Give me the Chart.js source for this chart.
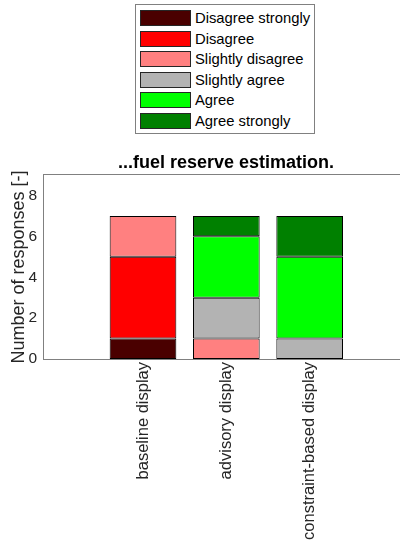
<!DOCTYPE html>
<html>
<head>
<meta charset="utf-8">
<script src="https://cdn.jsdelivr.net/npm/chart.js@4/dist/chart.umd.min.js"></script>
<style>
  html, body { margin: 0; padding: 0; background: #fff; width: 400px; height: 542px; overflow: hidden; }
  #wrap { position: relative; width: 400px; height: 542px; overflow: hidden; }
  #c { position: absolute; left: 0; top: 0; }
  #legend { position: absolute; left: 135px; top: 4px; width: 180px; height: 130px; border: 1px solid #808080; background: #fff; box-sizing: border-box; font-family: "Liberation Sans", Arial, sans-serif; font-size: 14.8px; color: #000; }
  .item { position: absolute; left: 4px; height: 16px; line-height: 16px; white-space: nowrap; }
  .sw { display: inline-block; width: 49px; height: 14px; border: 1px solid #262626; vertical-align: top; margin-right: 4px; }
</style>
</head>
<body>
<div id="wrap">
  <canvas id="c" width="452" height="542"></canvas>
  <div id="legend"></div>
</div>
<script>
// ---- data ----
const categories = ['baseline display', 'advisory display', 'constraint-based display'];
const responseLevels = ['Disagree strongly', 'Disagree', 'Slightly disagree', 'Slightly agree', 'Agree', 'Agree strongly'];
const levelColors = ['#4a0000', '#ff0000', '#ff8080', '#b3b3b3', '#00ff00', '#008000'];
const disagreeStrongly = [1, 0, 0];
const disagree         = [4, 0, 0];
const slightlyDisagree = [2, 1, 0];
const slightlyAgree    = [0, 2, 1];
const agree            = [0, 3, 4];
const agreeStrongly    = [0, 1, 2];
const yTicks = [0, 2, 4, 6, 8];
const titleText = '...fuel reserve estimation.';
const yTitle = 'Number of responses [-]';

const series = [disagreeStrongly, disagree, slightlyDisagree, slightlyAgree, agree, agreeStrongly];
const positions = categories.map((_, i) => i + 1);

const datasets = series.map((vals, k) => ({
  label: responseLevels[k],
  data: vals.map((v, i) => ({ x: positions[i], y: v === 0 ? null : v })),
  backgroundColor: levelColors[k],
  borderColor: '#000',
  borderWidth: 1,
  borderSkipped: false,
  barPercentage: 0.8,
  categoryPercentage: 1.0
}));

const FONT = '"Liberation Sans", Arial, sans-serif';
const X_MIN = -0.2, X_MAX = 4.708;

new Chart(document.getElementById('c'), {
  type: 'bar',
  data: { datasets },
  options: {
    responsive: false,
    animation: false,
    layout: { padding: { top: 0, left: 0, right: 0, bottom: 0 } },
    plugins: {
      legend: { display: false },
      tooltip: { enabled: false },
      title: {
        display: true,
        text: titleText,
        color: '#000',
        font: { family: FONT, size: 18, weight: 'bold', lineHeight: 1.2 },
        padding: { top: 152.2, bottom: 1.2 }
      }
    },
    scales: {
      x: {
        type: 'linear',
        position: 'bottom',
        stacked: true,
        offset: false,
        min: X_MIN,
        max: X_MAX,
        afterBuildTicks: s => { s.ticks = positions.map(v => ({ value: v })); },
        afterFit: s => { s.height = 183; },
        grid: { display: false, drawTicks: false },
        border: { display: true, color: '#808080', width: 1 },
        ticks: {
          autoSkip: false,
          minRotation: 90,
          maxRotation: 90,
          padding: 3,
          color: '#262626',
          font: { family: FONT, size: 16.5 },
          callback: v => categories[positions.indexOf(v)] || ''
        }
      },
      xTop: {
        type: 'linear',
        position: 'top',
        min: X_MIN,
        max: X_MAX,
        afterFit: s => { s.height = 0; },
        grid: { display: false, drawTicks: false },
        border: { display: true, color: '#808080', width: 1 },
        ticks: { display: false }
      },
      y: {
        stacked: true,
        min: 0,
        max: 9,
        afterBuildTicks: s => { s.ticks = yTicks.map(v => ({ value: v })); },
        afterFit: s => { s.width = 43; },
        grid: { display: false, drawTicks: false },
        border: { display: true, color: '#808080', width: 1 },
        ticks: { padding: 6, color: '#262626', font: { family: FONT, size: 15.5 } },
        title: {
          display: true,
          text: yTitle,
          color: '#262626',
          font: { family: FONT, size: 18 },
          padding: { top: 8, bottom: 0 }
        }
      }
    }
  }
});

// legend built from the same level names / colours
const leg = document.getElementById('legend');
responseLevels.forEach((name, k) => {
  const d = document.createElement('div');
  d.className = 'item';
  d.style.top = (5 + k * 20.6) + 'px';
  d.innerHTML = '<span class="sw" style="background:' + levelColors[k] + '"></span>' + name;
  leg.appendChild(d);
});
</script>
</body>
</html>
